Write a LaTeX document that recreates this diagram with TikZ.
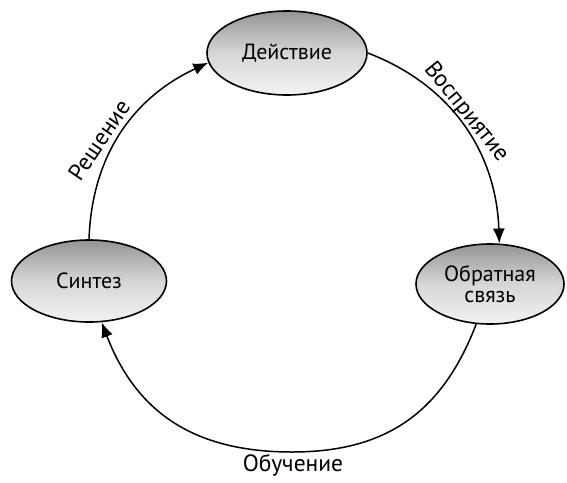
\documentclass[tikz,border=0pt]{standalone}
\usepackage{fontspec}
\setmainfont{PT Sans}
\usetikzlibrary{shapes.geometric,arrows.meta}
\begin{document}
\begin{tikzpicture}[x=1pt,y=1pt,
  stage/.style={ellipse, draw=black, line width=1.6pt, inner sep=0pt,
    top color=black!42, bottom color=black!5, middle color=black!16,
    font=\fontsize{22}{21}\selectfont, align=center},
  conn/.style={line width=1.5pt, -{Latex[length=15pt,width=12pt]}},
  lbl/.style={font=\fontsize{23.5}{26}\selectfont, inner sep=0pt}]
\path[use as bounding box] (0,0) rectangle (567,-482);
\node[stage, minimum width=160pt, minimum height=84pt] (deistvie) at (287,-53) {Действие};
\node[stage, minimum width=155pt, minimum height=82pt] (sintez) at (89,-281) {Синтез};
\node[stage, minimum width=148pt, minimum height=80pt] (feedback) at (490,-284) {Обратная\\связь};
\coordinate (bot) at (292,-452);
\draw[conn] (sintez.north) to[out=88,in=205] (deistvie.187);
\draw[conn] (deistvie.east) to[out=-21,in=92] (feedback.77);
\draw[conn] (feedback.251) to[out=-111,in=0,looseness=1.08] (bot) to[out=180,in=-69,looseness=1.08] (sintez.287);
\node[lbl, rotate=56] (resh) at (99,-140) {Решение};
\node[lbl, rotate=-51] (vospr) at (466,-112) {Восприятие};
\node[lbl] (obuch) at (293,-465) {Обучение};
\end{tikzpicture}
\end{document}
